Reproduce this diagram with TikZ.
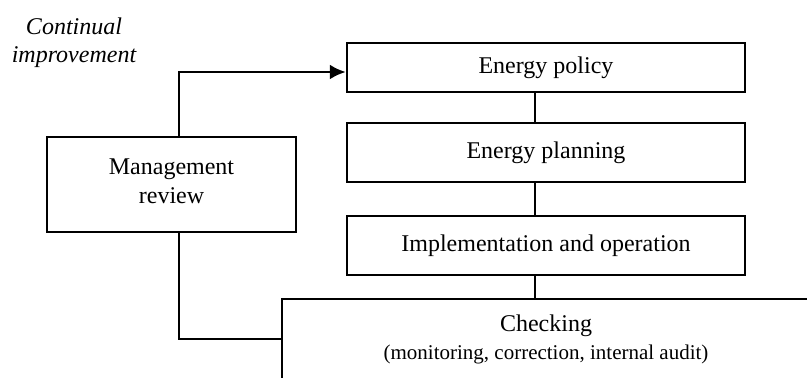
\documentclass[tikz,border=0pt]{standalone}
\usepackage{fontspec}
\setmainfont{Liberation Serif}
\usetikzlibrary{arrows.meta}

\begin{document}
\begin{tikzpicture}[x=0.5pt,y=-0.5pt,
    box/.style={draw,line width=1.25pt,inner sep=0pt,align=center,
      font=\fontsize{12}{14}\selectfont},
    link/.style={line width=1.25pt}]
  %%%%% START %%%%%
  \useasboundingbox (0,0) rectangle (807,378);

  \node[align=center,font=\fontsize{12}{14}\selectfont\itshape] (ci) at (74,43) {Continual\\improvement};

  \node[box,minimum width=199pt,minimum height=24.5pt] (policy) at (546,67.5) {Energy policy};
  \node[box,minimum width=199pt,minimum height=29.5pt] (planning) at (546,152.5) {Energy planning};
  \node[box,minimum width=199pt,minimum height=29.5pt] (impl) at (546,245.5) {Implementation and operation};
  \node[box,minimum width=124.5pt,minimum height=47.5pt] (review) at (171.5,184.5)
    {\raisebox{3pt}{\shortstack{Management\\[1pt]review}}};
  \node[box,minimum width=264pt,minimum height=40pt] (checking) at (546,339)
    {Checking\\{\fontsize{10.5}{12}\selectfont (monitoring, correction, internal audit)}};

  \draw[link] ([xshift=-5.5pt]policy.south) -- ([xshift=-5.5pt]planning.north);
  \draw[link] ([xshift=-5.5pt]planning.south) -- ([xshift=-5.5pt]impl.north);
  \draw[link] ([xshift=-5.5pt]impl.south) -- ([xshift=-5.5pt]impl.south |- checking.north);

  \draw[link,-{Latex[length=8pt,width=7.5pt]}] ([xshift=3.75pt]review.north) |- ([yshift=-2.25pt]policy.west);
  \draw[link] ([xshift=3.75pt]review.south) |- (checking.west);
  %%%%% END %%%%%
\end{tikzpicture}
\end{document}
